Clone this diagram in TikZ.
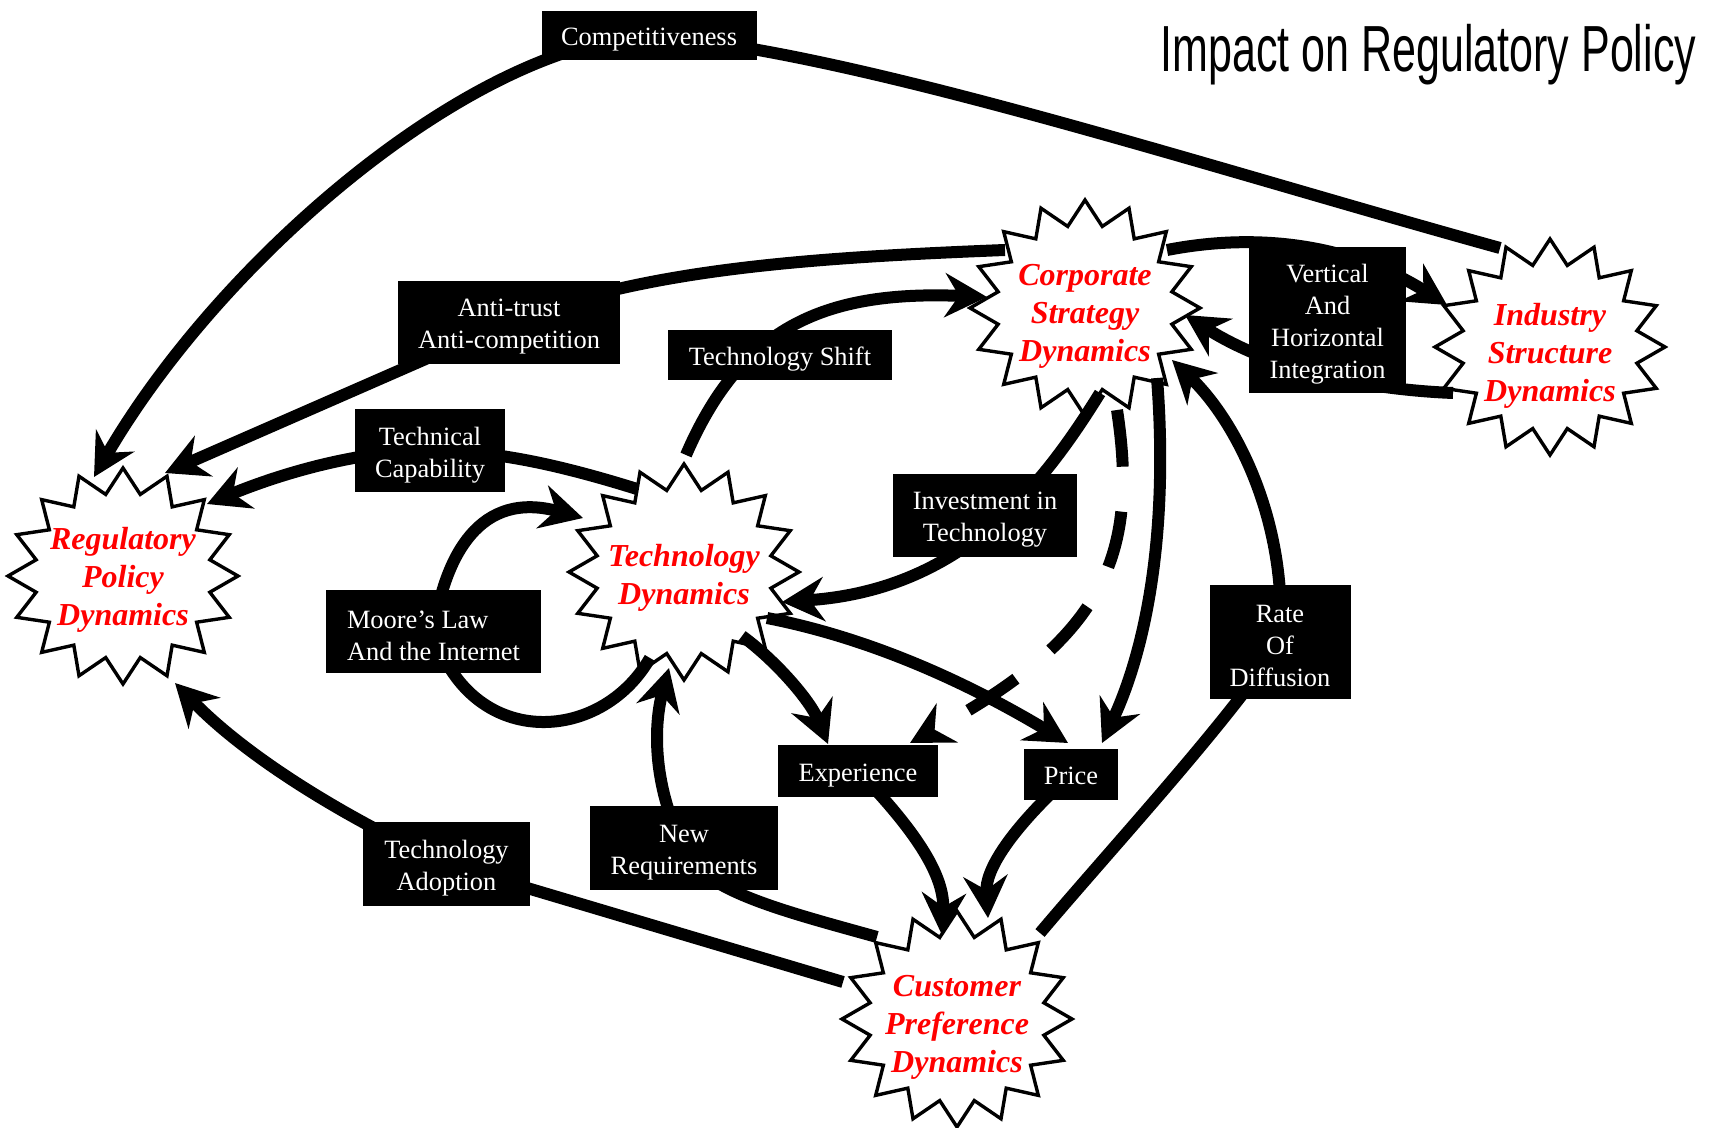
\documentclass[tikz,border=0pt]{standalone}
\usepackage{fontspec}
\setmainfont{Liberation Serif}
\newfontfamily\headfont[FakeStretch=0.66]{Liberation Sans}
\usetikzlibrary{arrows.meta,calc}
\pgfdeclarelayer{paper}
\pgfdeclarelayer{bursts}
\pgfdeclarelayer{links}
\pgfsetlayers{paper,bursts,links,main}

\tikzset{
  burstline/.style={draw=black, fill=white, line width=1.7pt, line join=miter},
  burstlabel/.style={text=red, font=\bfseries\itshape\fontsize{16}{19}\selectfont, align=center, inner sep=0pt},
  tagfill/.style={fill=black, inner sep=0pt},
  tagtext/.style={text=white, align=center, inner sep=0pt, font=\fontsize{13.2}{16}\selectfont},
  link/.style={line width=6pt, -{Stealth[length=21pt,width=22pt,inset=7pt]}},
  dashedlink/.style={link, dash pattern=on 28.5pt off 22.5pt},
}

% 16-point burst: name, x, y, label, label shift
\newcommand\drawburst[5]{%
  \begin{pgfonlayer}{bursts}
    \draw[burstline] plot[samples at={0,...,31}, variable=\k]
      ({#2+(1-0.23*mod(\k,2))*115*cos(\k*11.25)}, {#3+(1-0.23*mod(\k,2))*108*sin(\k*11.25)}) -- cycle;
    \coordinate (#1) at (#2,#3);
    \node[burstlabel] (#1-text) at (#2,#3+#5) {#4};
  \end{pgfonlayer}}

% black label box: [text options] name, x, y, width, height, text
\newcommand\tagbox[7][]{%
  \node[tagfill, minimum width=#5, minimum height=#6] (#2) at (#3,#4) {};
  \node[tagtext, #1] (#2-text) at (#3,#4+4.4) {#7};}

\begin{document}
\begin{tikzpicture}[x=0.5pt, y=-0.5pt]
\begin{pgfonlayer}{paper}
  \fill[white] (0,0) rectangle (1712,1128);
\end{pgfonlayer}
\useasboundingbox (0,0) rectangle (1712,1128);

% title
\node[anchor=base west, inner sep=0pt, font=\headfont\fontsize{32.6}{36}\selectfont] (title) at (1160,72) {Impact on Regulatory Policy};

% the five dynamics
\drawburst{reg}{123}{576}{Regulatory\\Policy\\Dynamics}{4}
\drawburst{tech}{684}{572}{Technology\\Dynamics}{6}
\drawburst{corp}{1085}{308}{Corporate\\Strategy\\Dynamics}{8.5}
\drawburst{ind}{1550}{347}{Industry\\Structure\\Dynamics}{9}
\drawburst{cust}{957}{1019}{Customer\\Preference\\Dynamics}{8.5}

% labels on the links
\tagbox{comp}{649}{35.5}{107.5pt}{24.5pt}{Competitiveness}
\tagbox{anti}{509}{322.5}{111pt}{41.5pt}{Anti-trust\\Anti-competition}
\tagbox{tshift}{780}{355}{112pt}{25pt}{Technology Shift}
\tagbox{techcap}{430}{450.5}{75pt}{41.5pt}{Technical\\Capability}
\tagbox{invest}{985}{515}{92pt}{41.5pt}{Investment in\\Technology}
\tagbox[align=left]{moore}{433.5}{631.5}{107.5pt}{41.5pt}{Moore’s Law\\And the Internet}
\tagbox{vert}{1327.5}{320}{78.5pt}{73pt}{Vertical\\And\\Horizontal\\Integration}
\tagbox{rate}{1280}{642}{70.5pt}{57pt}{Rate\\Of\\Diffusion}
\tagbox{exp}{858}{771}{80pt}{26pt}{Experience}
\tagbox[yshift=1.7pt]{price}{1071}{774.5}{47pt}{25.5pt}{Price}
\tagbox{newreq}{684}{848}{94pt}{42pt}{New\\Requirements}
\tagbox{adopt}{446.5}{864}{83.5pt}{42pt}{Technology\\Adoption}

\begin{pgfonlayer}{links}
  % competitiveness
  \draw[link] ($(ind)+(-50,-99)$) .. controls (1200,165) and (850,50) .. (comp.center)
              .. controls (470,45) and (220,260) .. ($(reg)+(-29,-99)$);
  % anti-trust
  \draw[link] ($(corp)+(-80,-58)$) .. controls (800,258) and (640,270) .. (anti.center) -- ($(reg)+(42,-103)$);
  % technical capability
  \draw[link] ($(tech)+(-47,-83)$) .. controls (560,465) and (495,450.5) .. (techcap.center)
              .. controls (365,450.5) and (290,470) .. ($(reg)+(84,-72)$);
  % technology shift
  \draw[link] ($(tech)+(2,-117)$) .. controls (740,330) and (820,290) .. ($(corp)+(-98,-11)$);
  % Moore's law loop
  \draw[link] ($(tech)+(-34,86)$) .. controls (600,745) and (470,750) .. (moore.center)
              .. controls (445,555) and (480,490) .. ($(tech)+(-101,-54)$);
  % investment in technology
  \draw[link] ($(corp)+(15,85)$) .. controls (1040,490) and (960,590) .. ($(tech)+(98,30)$);
  % corporate strategy to experience
  \draw[dashedlink] ($(corp)+(32,102)$) .. controls (1140,560) and (1100,640) .. ($(exp)+(52,-28)$);
  % corporate strategy to price
  \draw[link] ($(corp)+(72,70)$) .. controls (1168,520) and (1150,640) .. ($(price)+(31,-31.5)$);
  % technology to price
  \draw[link] ($(tech)+(83,46)$) .. controls (880,640) and (980,690) .. ($(price)+(-3,-31.5)$);
  % technology to experience
  \draw[link] ($(tech)+(58,64)$) .. controls (775,660) and (810,700) .. ($(exp)+(-30,-27)$);
  % experience and price to customers
  \draw[link] (exp.center) .. controls (905,820) and (945,870) .. ($(cust)+(-15,-84)$);
  \draw[link] (price.center) .. controls (1010,830) and (985,870) .. ($(cust)+(31,-101)$);
  % new requirements
  \draw[link] ($(cust)+(-80,-82)$) .. controls (780,910) and (700,890) .. (newreq.center)
              .. controls (650,780) and (655,720) .. ($(tech)+(-15,96)$);
  % technology adoption
  \draw[link] ($(cust)+(-114,-37)$) -- (adopt.center) .. controls (350,820) and (250,760) .. ($(reg)+(52,107)$);
  % rate of diffusion
  \draw[link] ($(cust)+(83,-86)$) .. controls (1110,850) and (1230,720) .. (rate.center)
              .. controls (1288,520) and (1235,420) .. ($(corp)+(87,52)$);
  % vertical and horizontal integration
  \draw[link] ($(corp)+(82,-58)$) .. controls (1270,230) and (1360,250) .. ($(ind)+(-103,-42)$);
  \draw[link] ($(ind)+(-97,46)$) .. controls (1380,390) and (1280,375) .. ($(corp)+(100,7)$);
\end{pgfonlayer}
\end{tikzpicture}
\end{document}
